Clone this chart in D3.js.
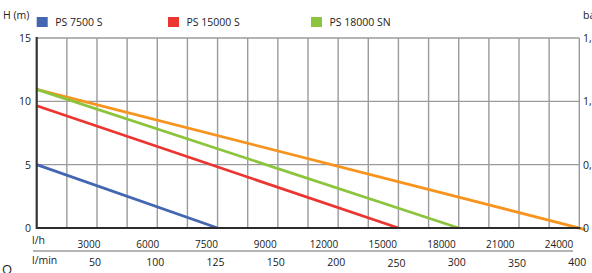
<!DOCTYPE html>
<html><head><meta charset="utf-8">
<script src="https://cdn.jsdelivr.net/npm/d3@7"></script>
<style>body{margin:0;background:#fff;} text{font-family:"Open Sans","Noto Sans",sans-serif;}</style>
</head><body>
<svg id="c" width="592" height="273"></svg>
<script>
const seriesNames = ["PS 7500 S", "PS 15000 S", "PS 18000 SN", ""];
const seriesColors = ["#4465b0", "#ec3431", "#8cc43e", "#f7941e"];
// flow in l/min, head in m
const blueQ = [0, 125], blueH = [5, 0];
const redQ = [0, 250], redH = [9.65, 0];
const greenQ = [0, 300], greenH = [10.95, 0];
const orangeQ = [0, 405], orangeH = [10.95, -0.12];
const yTicks = [0, 5, 10, 15];
const barTicks = ["0", "0,5", "1,0", "1,5"];
const lhLabels = ["3000", "6000", "7500", "9000", "12000", "15000", "18000", "21000", "24000"];
const lminLabels = ["50", "100", "125", "150", "200", "250", "300", "350", "400"];
const flowBreaks = [0, 50, 100, 125, 150, 200, 250, 300, 350, 400];

const svg = d3.select("#c");
const L = 36.7, R = 579.3, T = 38, B = 228;
const nGrid = 18;
// chart axis is non-uniform: label values sit on every second gridline
const gx = d3.scaleLinear().domain([0, nGrid]).range([L, R]);
const x = d3.scaleLinear().domain(flowBreaks).range(flowBreaks.map((d, i) => gx(i * 2)));
const y = d3.scaleLinear().domain([0, 15]).range([B, T]);

// grid
const g = svg.append("g");
g.selectAll("line.v").data(d3.range(1, nGrid + 1)).join("line")
  .attr("x1", d => gx(d)).attr("x2", d => gx(d)).attr("y1", T).attr("y2", B)
  .attr("stroke", "#9a9b9e").attr("stroke-width", 1.4);
g.selectAll("line.h").data(yTicks.slice(1)).join("line")
  .attr("x1", L).attr("x2", R).attr("y1", d => y(d)).attr("y2", d => y(d))
  .attr("stroke", "#9a9b9e").attr("stroke-width", 1.4);

// series
const series = [[blueQ, blueH], [redQ, redH], [greenQ, greenH], [orangeQ, orangeH]];
const line = d3.line().x(d => x(d[0])).y(d => y(d[1]));
[3, 2, 1, 0].forEach(i => {
  const pts = series[i][0].map((q, k) => [q, series[i][1][k]]);
  svg.append("path").attr("d", line(pts)).attr("fill", "none")
    .attr("stroke", seriesColors[i]).attr("stroke-width", 2.8);
});

// axes lines
svg.append("line").attr("x1", L).attr("x2", R + 1).attr("y1", B).attr("y2", B)
  .attr("stroke", "#2b2b2b").attr("stroke-width", 2);
svg.append("line").attr("x1", L).attr("x2", L).attr("y1", T - 1).attr("y2", B + 1)
  .attr("stroke", "#333").attr("stroke-width", 2.2);

// left tick labels
svg.selectAll("text.yl").data(yTicks).join("text")
  .attr("x", 31).attr("y", d => y(d) + 4).attr("text-anchor", "end")
  .attr("font-size", 10.5).attr("fill", "#222").text(d => d);
// right tick labels (bar)
svg.selectAll("text.yr").data(barTicks).join("text")
  .attr("x", 583).attr("y", (d, i) => y(yTicks[i]) + 4)
  .attr("font-size", 10.5).attr("fill", "#222").text(d => d);
svg.append("text").attr("x", 583).attr("y", 19).attr("font-size", 10.5).attr("fill", "#222").text("bar");
svg.append("text").attr("x", 3).attr("y", 19).attr("font-size", 10.5).attr("fill", "#222").text("H (m)");

// legend
const legX = [36.7, 168, 311];
seriesNames.slice(0, 3).forEach((n, i) => {
  svg.append("rect").attr("x", legX[i]).attr("y", 17).attr("width", 11).attr("height", 10).attr("fill", seriesColors[i]);
  svg.append("text").attr("x", legX[i] + 18.5).attr("y", 26).attr("font-size", 10.5).attr("fill", "#222").text(n);
});

// bottom labels
const lhScale = d3.scalePoint().domain(lhLabels).range([89, 559]);
svg.selectAll("text.lh").data(lhLabels).join("text")
  .attr("x", d => lhScale(d)).attr("y", 248).attr("text-anchor", "middle")
  .attr("font-size", 10).attr("fill", "#222").text(d => d);
const lminScale = d3.scalePoint().domain(lminLabels).range([gx(2), gx(18)]);
svg.selectAll("text.lm").data(lminLabels).join("text")
  .attr("x", d => lminScale(d) - 2).attr("y", (d, i) => i >= 5 && i % 2 === 1 ? 267 : 266).attr("text-anchor", "middle")
  .attr("font-size", 10.5).attr("fill", "#222").text(d => d);
svg.append("text").attr("x", 32).attr("y", 244).attr("font-size", 10.5).attr("fill", "#222").text("l/h");
svg.append("text").attr("x", 32).attr("y", 264).attr("font-size", 10.5).attr("fill", "#222").text("l/min");
svg.append("text").attr("x", 2).attr("y", 273.5).attr("font-size", 13).attr("fill", "#222").text("Q");
svg.append("line").attr("x1", 33).attr("x2", 573).attr("y1", 251).attr("y2", 251)
  .attr("stroke", "#9a9b9e").attr("stroke-width", 1.5);
</script>
</body></html>
